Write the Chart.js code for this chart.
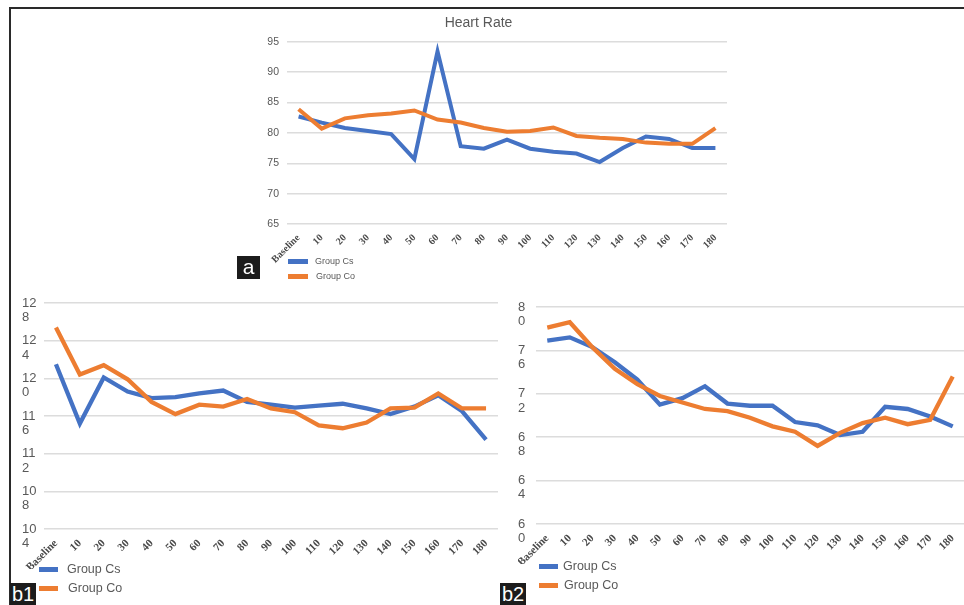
<!DOCTYPE html>
<html>
<head>
<meta charset="utf-8">
<script src="https://cdn.jsdelivr.net/npm/chart.js@4"></script>
<style>
  body { margin: 0; width: 964px; height: 605px; background: #fff; position: relative; overflow: hidden;
         font-family: "Liberation Sans", Arial, sans-serif; }
  .frame { position: absolute; left: 9px; top: 7px; width: 960px; height: 600px;
           border-top: 2px solid #2a2a2a; border-left: 2px solid #2a2a2a; }
  canvas { position: absolute; }
  .tag { position: absolute; background: #1c1c1c; color: #fff; text-align: center; }
  .legend { position: absolute; color: #595959; }
  .legend .item { position: absolute; left: 0; white-space: nowrap; }
  .legend .sw { position: absolute; }
</style>
</head>
<body>
<div class="frame"></div>
<canvas id="chartA" width="510" height="256" style="left:230px;top:8px"></canvas>
<canvas id="chartB1" width="476" height="276" style="left:22px;top:293px"></canvas>
<canvas id="chartB2" width="446" height="267" style="left:518px;top:297px"></canvas>

<div class="tag" style="left:237px;top:256px;width:23px;height:23px;font-size:21px;line-height:21px">a</div>
<div class="tag" style="left:10px;top:583px;width:26px;height:22px;font-size:20px;line-height:22px">b1</div>
<div class="tag" style="left:500px;top:583px;width:26px;height:22px;font-size:20px;line-height:22px">b2</div>

<div id="legA" class="legend"></div>
<div id="legB1" class="legend"></div>
<div id="legB2" class="legend"></div>

<script>
const BLUE = '#4472C4';
const ORANGE = '#ED7D31';

// categories (minutes)
const categories = ['Baseline', '10', '20', '30', '40', '50', '60', '70', '80', '90',
  '100', '110', '120', '130', '140', '150', '160', '170', '180'];
const seriesNames = ['Group Cs', 'Group Co'];

// a: Heart Rate
const hrCs = [82.7, 81.7, 80.8, 80.3, 79.8, 75.7, 93.4, 77.8, 77.4, 78.9,
  77.4, 76.9, 76.6, 75.2, 77.5, 79.4, 79.0, 77.5, 77.5];
const hrCo = [83.9, 80.7, 82.4, 82.9, 83.2, 83.7, 82.2, 81.7, 80.8, 80.2,
  80.3, 80.9, 79.5, 79.2, 79.0, 78.4, 78.2, 78.2, 80.8];
const hrTicks = { min: 65, max: 95, step: 5 };

// b1
const b1Cs = [121.5, 115.2, 120.1, 118.6, 117.9, 118.0, 118.4, 118.7, 117.5, 117.2,
  116.9, 117.1, 117.3, 116.8, 116.2, 117.0, 118.2, 116.5, 113.5];
const b1Co = [125.4, 120.4, 121.4, 119.9, 117.5, 116.2, 117.2, 117.0, 117.8, 116.8,
  116.4, 115.0, 114.7, 115.3, 116.8, 116.9, 118.4, 116.8, 116.8];
const b1Ticks = { min: 104, max: 128, step: 4 };

// b2
const b2Cs = [76.9, 77.2, 76.3, 74.9, 73.3, 71.0, 71.6, 72.7, 71.1, 70.9,
  70.9, 69.4, 69.1, 68.2, 68.5, 70.8, 70.6, 69.9, 69.0];
const b2Co = [78.1, 78.6, 76.3, 74.3, 72.9, 71.8, 71.2, 70.6, 70.4, 69.8,
  69.0, 68.5, 67.2, 68.4, 69.3, 69.8, 69.2, 69.6, 73.6];
const b2Ticks = { min: 60, max: 80, step: 4 };

// narrow axis boxes wrap the numbers: "128" -> "12" / "8", "76" -> "7" / "6"
function splitTick(v) {
  const s = String(v);
  return ['', s.slice(0, -1), s.slice(-1)];
}

function makeChart(id, cs, co, t, cfg) {
  return new Chart(document.getElementById(id), {
    type: 'line',
    data: {
      labels: categories,
      datasets: [
        { label: seriesNames[0], data: cs, borderColor: BLUE, borderWidth: cfg.lw, pointRadius: 0, tension: 0, order: 1 },
        { label: seriesNames[1], data: co, borderColor: ORANGE, borderWidth: cfg.lw, pointRadius: 0, tension: 0, order: 0 }
      ]
    },
    options: {
      responsive: false,
      animation: false,
      layout: { padding: cfg.padding },
      plugins: {
        legend: { display: false },
        tooltip: { enabled: false },
        title: cfg.title || { display: false }
      },
      scales: {
        x: {
          offset: true,
          grid: { display: false, drawTicks: false },
          border: { display: false },
          ticks: {
            autoSkip: false, minRotation: 45, maxRotation: 45, padding: cfg.xPad,
            color: '#4a4a4a',
            font: { family: '"Liberation Serif", "Times New Roman", serif', weight: 'bold', size: cfg.xFont }
          },
          afterFit: s => { s.height = cfg.xHeight; s.paddingLeft = 0; s.paddingRight = 0; }
        },
        y: {
          min: t.min, max: t.max,
          grid: { color: '#dcdcdc', lineWidth: 1.5, drawTicks: false },
          border: { display: false },
          ticks: {
            stepSize: t.step, autoSkip: false, padding: cfg.yPad, crossAlign: cfg.crossAlign,
            color: '#595959',
            font: { family: '"Liberation Sans", Arial, sans-serif', size: cfg.yFont, lineHeight: cfg.yLine },
            callback: cfg.split ? splitTick : (v => v)
          },
          afterFit: s => { s.width = cfg.yWidth; s.paddingTop = 0; s.paddingBottom = 0; }
        }
      }
    }
  });
}

makeChart('chartA', hrCs, hrCo, hrTicks, {
  lw: 4, padding: { top: 0, right: 13, bottom: 0, left: 0 },
  title: { display: true, text: 'Heart Rate', color: '#595959',
           font: { family: '"Liberation Sans", Arial, sans-serif', size: 14, weight: 'normal' },
           padding: { top: 7, bottom: 10 } },
  xPad: 8, xFont: 10, xHeight: 40,
  yPad: 8, yFont: 10.5, yLine: 1.2, yWidth: 57, crossAlign: 'near', split: false
});

makeChart('chartB1', b1Cs, b1Co, b1Ticks, {
  lw: 4.3, padding: { top: 10, right: 0, bottom: 0, left: 0 },
  xPad: 8, xFont: 11, xHeight: 40,
  yPad: 4, yFont: 13, yLine: 1.1, yWidth: 22, crossAlign: 'far', split: true
});

makeChart('chartB2', b2Cs, b2Co, b2Ticks, {
  lw: 4.3, padding: { top: 10, right: 0, bottom: 0, left: 0 },
  xPad: 8, xFont: 11, xHeight: 40,
  yPad: 4, yFont: 13, yLine: 1.1, yWidth: 18, crossAlign: 'far', split: true
});

// legends: stacked swatch + name, like the spreadsheet export
function makeLegend(id, x, y, gap, sw, font, textDx) {
  const box = document.getElementById(id);
  box.style.left = x + 'px';
  box.style.top = y + 'px';
  [BLUE, ORANGE].forEach((c, i) => {
    const item = document.createElement('div');
    item.className = 'item';
    item.style.top = (i * gap) + 'px';
    const s = document.createElement('div');
    s.className = 'sw';
    s.style.cssText = `left:0;top:${-sw.h / 2}px;width:${sw.w}px;height:${sw.h}px;background:${c}`;
    const t = document.createElement('div');
    t.style.cssText = `position:absolute;left:${textDx + (i ? 1 : 0)}px;top:${-font * 0.6}px;font-size:${font}px;line-height:${font * 1.2}px`;
    t.textContent = seriesNames[i];
    item.appendChild(s);
    item.appendChild(t);
    box.appendChild(item);
  });
}

makeLegend('legA', 288, 261, 15, { w: 20, h: 5 }, 9, 27);
makeLegend('legB1', 39, 569, 19, { w: 19, h: 5 }, 12.5, 28);
makeLegend('legB2', 539, 566, 19, { w: 19, h: 5 }, 12.5, 24);
</script>
</body>
</html>
